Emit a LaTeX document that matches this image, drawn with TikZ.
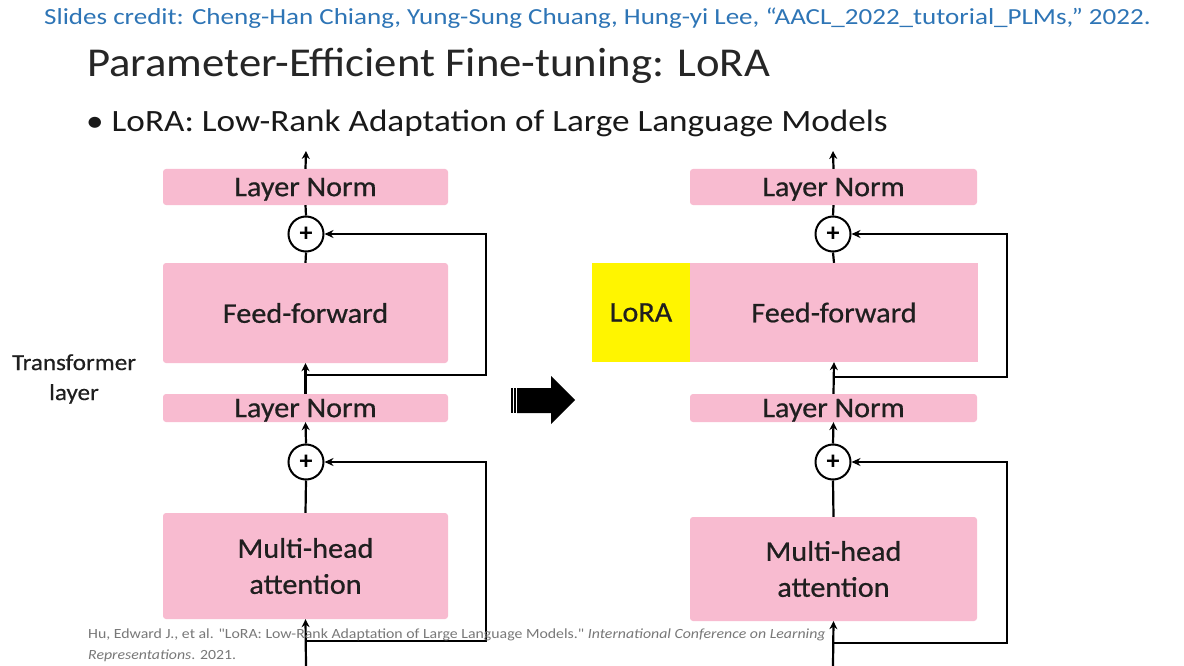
\documentclass[tikz,border=0pt]{standalone}
\usepackage{fontspec}
\setmainfont{Carlito}
\newfontfamily\creditfont[FakeStretch=1.175]{Carlito}
\newfontfamily\titlefont[FakeStretch=1.09]{Carlito}
\newfontfamily\bulletfont[FakeStretch=1.135]{Carlito}
\newfontfamily\citefont[FakeStretch=1.13]{Carlito}
\newfontfamily\labelfont[FakeStretch=1.06,FakeBold=0.6]{Carlito}
\newfontfamily\sidefont[FakeStretch=1.09,FakeBold=0.5]{Carlito}
\usetikzlibrary{arrows.meta}
\definecolor{pinkbox}{RGB}{248,187,208}
\definecolor{creditblue}{RGB}{46,117,182}
\definecolor{citegray}{RGB}{120,120,120}
\definecolor{loray}{RGB}{255,245,0}
\begin{document}
\begin{tikzpicture}[x=1pt,y=-1pt,
  box/.style={fill=pinkbox, rounded corners=3pt, inner sep=0pt, text=black!88,
              font=\labelfont\fontsize{28.5}{36}\selectfont, align=center},
  lorabox/.style={fill=loray, inner sep=0pt, text=black!88, font=\labelfont\fontsize{28.5}{36}\selectfont},
  adder/.style={circle, draw, line width=2pt, minimum size=35pt, inner sep=0pt,
                font=\fontsize{26}{26}\selectfont\bfseries},
  flow/.style={line width=2.2pt},
  arr/.style={flow, -{Stealth[length=8pt,width=8pt]}},
  res/.style={line width=2.8pt},
  resarr/.style={res, -{Stealth[length=9pt,width=8pt]}},
  lbl/.style={inner sep=0pt, anchor=west}
]
\useasboundingbox (0,0) rectangle (1184,666);
\fill[white] (0,0) rectangle (1184,666);

% header texts
\node[lbl, text=creditblue, font=\creditfont\fontsize{23}{26}\selectfont] (credit) at (44,18)
  {Slides credit: Cheng-Han Chiang, Yung-Sung Chuang, Hung-yi Lee, “AACL\_2022\_tutorial\_PLMs,” 2022.};
\node[lbl, text=black!85, font=\titlefont\fontsize{41}{46}\selectfont] (title) at (87,66)
  {Parameter-Efficient Fine-tuning: LoRA};
\node[lbl, text=black!90, font=\bulletfont\fontsize{31}{34}\selectfont] (bullet) at (86,123)
  {•\hspace{8pt}LoRA: Low-Rank Adaptation of Large Language Models};

% side label
\node[inner sep=0pt, align=center, text=black!88, font=\sidefont\fontsize{23}{30}\selectfont] (tl) at (74,379)
  {Transformer\\layer};

% ---------- left column ----------
\node[box, minimum width=285pt, minimum height=36pt, text depth=0pt] (lnTopL) at (305.5,187) {Layer Norm};
\node[adder] (addTopL) at (306,234) {+};
\node[box, minimum width=285pt, minimum height=100pt] (ffL) at (305.5,313) {Feed-forward};
\node[box, minimum width=285pt, minimum height=28pt, text depth=0pt] (lnBotL) at (305.5,408) {Layer Norm};
\node[adder] (addBotL) at (306,462) {+};
\node[box, minimum width=285pt, minimum height=106pt] (mhaL) at (305.5,566) {Multi-head\\attention};

\coordinate (outL) at (306,151);
\coordinate (resTopL) at (306,375);
\coordinate (rxTopL) at (486,375);
\coordinate (inL) at (306,666);
\coordinate (resBotL) at (306,641);
\coordinate (rxBotL) at (486,641);

\draw[arr] (lnTopL.north) -- (outL);
\draw[flow] (lnTopL.south) -- (addTopL.north);
\draw[flow] (ffL.north) -- (addTopL.south);
\draw[arr] (lnBotL.north) -- (ffL.south);
\draw[resarr] (resTopL) -- (rxTopL) |- (addTopL.east);
\draw[arr] (addBotL.north) -- (lnBotL.south);
\draw[flow] (mhaL.north) -- (addBotL.south);
\draw[arr] (inL) -- (mhaL.south);
\draw[resarr] (resBotL) -- (rxBotL) |- (addBotL.east);

% ---------- big arrow ----------
\fill[black] (517,388) -- (551,388) -- (551,376) -- (575,400) -- (551,424) -- (551,413) -- (517,413) -- cycle;
\fill[black] (510.5,388) rectangle (512.8,413);
\fill[black] (514,388) rectangle (516,413);

% ---------- right column ----------
\node[box, minimum width=287pt, minimum height=36pt, text depth=0pt] (lnTopR) at (833.5,187) {Layer Norm};
\node[adder] (addTopR) at (833,234) {+};
\node[box, minimum width=288pt, minimum height=99pt, rounded corners=0pt] (ffR) at (834,312.5) {Feed-forward};
\node[lorabox, minimum width=98pt, minimum height=99pt] (lora) at (641,312.5) {LoRA};
\node[box, minimum width=287pt, minimum height=28pt, text depth=0pt] (lnBotR) at (833.5,408) {Layer Norm};
\node[adder] (addBotR) at (833,462) {+};
\node[box, minimum width=287pt, minimum height=104pt] (mhaR) at (833.5,569) {Multi-head\\attention};

\coordinate (outR) at (833,151);
\coordinate (resTopR) at (833,377);
\coordinate (rxTopR) at (1007,377);
\coordinate (inR) at (833,666);
\coordinate (resBotR) at (833,643);
\coordinate (rxBotR) at (1007,643);

\draw[arr] (lnTopR.north) -- (outR);
\draw[flow] (lnTopR.south) -- (addTopR.north);
\draw[flow] (ffR.north) -- (addTopR.south);
\draw[arr] (lnBotR.north) -- (ffR.south);
\draw[resarr] (resTopR) -- (rxTopR) |- (addTopR.east);
\draw[arr] (addBotR.north) -- (lnBotR.south);
\draw[flow] (mhaR.north) -- (addBotR.south);
\draw[arr] (inR) -- (mhaR.south);
\draw[resarr] (resBotR) -- (rxBotR) |- (addBotR.east);

% ---------- citation ----------
\node[lbl, text=citegray, font=\citefont\fontsize{14}{20}\selectfont] (cite1) at (88,635)
  {Hu, Edward J., et al. "LoRA: Low-Rank Adaptation of Large Language Models." \textit{International Conference on Learning}};
\node[lbl, text=citegray, font=\citefont\fontsize{14}{20}\selectfont] (cite2) at (88,656)
  {\textit{Representations}. 2021.};
\end{tikzpicture}
\end{document}
